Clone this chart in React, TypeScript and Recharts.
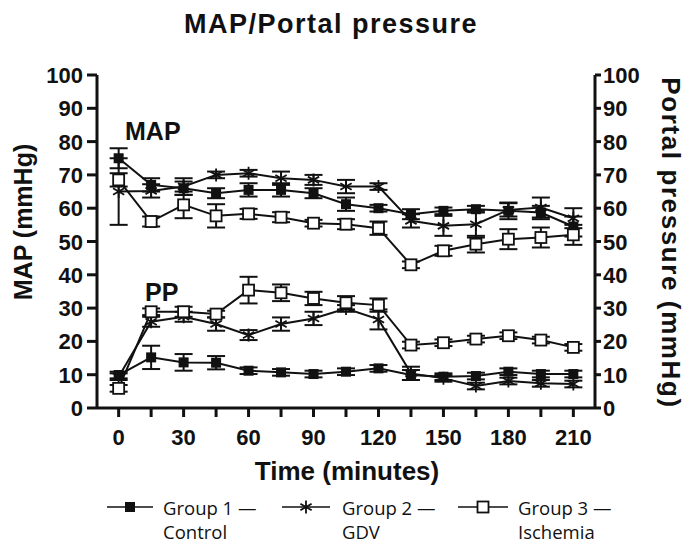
import React from "react";
import { LineChart, Line, XAxis, YAxis, ErrorBar } from "recharts";

const times = [0, 15, 30, 45, 60, 75, 90, 105, 120, 135, 150, 165, 180, 195, 210];
const xTicks = [0, 15, 30, 45, 60, 75, 90, 105, 120, 135, 150, 165, 180, 195, 210];
const yTicks = [0, 10, 20, 30, 40, 50, 60, 70, 80, 90, 100];

const mapControl = [75, 67, 66, 64.5, 65.5, 65.5, 64.5, 61.2, 60, 58.2, 59.2, 59.7, 59.2, 58.7, 54.5];
const mapControlErr = [3, 2, 2, 1.5, 2, 2, 1.5, 2, 1, 1.5, 1, 1, 2.5, 2, 3];
const mapGdv = [65, 65.2, 66.5, 70, 70.5, 69, 68.5, 66.5, 66.5, 56.2, 54.7, 55.2, 59.5, 60.2, 57];
const mapGdvErr = [10, 2, 2.5, 1, 1, 2, 1.5, 2, 1, 2, 3, 4, 2, 3, 3];
const mapIsch = [68.5, 56, 61, 57.7, 58.3, 57.3, 55.5, 55.2, 54, 43, 47.2, 49.2, 50.7, 51.2, 52];
const mapIschErr = [2, 1.5, 4, 3.5, 1.5, 1.5, 1, 1.5, 2, 1, 1.5, 2.5, 3, 3, 3];

const ppControl = [9.9, 15.2, 13.7, 13.6, 11.2, 10.7, 10.2, 10.9, 11.9, 9.9, 9.4, 9.6, 10.9, 10.2, 10.2];
const ppControlErr = [1, 3.5, 2.5, 2, 1, 1, 1, 1, 1, 1.5, 1, 1, 1, 1, 1];
const ppGdv = [9.4, 25.9, 27.4, 25.2, 21.9, 25.2, 26.9, 29.9, 26.6, 10.4, 8.9, 6.6, 8.1, 7.4, 7.2];
const ppGdvErr = [1, 1.5, 1.5, 2, 1.5, 2, 2, 1, 3, 2, 1, 1, 1, 1, 1];
const ppIsch = [5.9, 28.9, 28.9, 28.2, 35.4, 34.6, 32.9, 31.6, 30.9, 18.9, 19.6, 20.7, 21.7, 20.4, 18.2];
const ppIschErr = [1, 1, 1.5, 1, 4, 2.5, 2, 2, 2, 1, 1, 1, 1, 1, 1];

const groupLine1 = ["Group 1 —", "Group 2 —", "Group 3 —"];
const groupLine2 = ["Control", "GDV", "Ischemia"];

const data = times.map((t, i) => ({
  t,
  mapG1: mapControl[i], mapG1e: mapControlErr[i],
  mapG2: mapGdv[i], mapG2e: mapGdvErr[i],
  mapG3: mapIsch[i], mapG3e: mapIschErr[i],
  ppG1: ppControl[i], ppG1e: ppControlErr[i],
  ppG2: ppGdv[i], ppG2e: ppGdvErr[i],
  ppG3: ppIsch[i], ppG3e: ppIschErr[i],
}));

const INK = "#111";
const AXFONT = "'Liberation Sans', Arial, Helvetica, sans-serif";
const TICK_FS = 22;

const FilledSquare = (p: any) => {
  if (p.cx == null || p.cy == null) return <g key={p.key} />;
  return <rect key={p.key} x={p.cx - 5} y={p.cy - 5} width={10} height={10} fill={INK} />;
};
const OpenSquare = (p: any) => {
  if (p.cx == null || p.cy == null) return <g key={p.key} />;
  return (
    <rect key={p.key} x={p.cx - 5.5} y={p.cy - 5.5} width={11} height={11} fill="#fff" stroke={INK} strokeWidth={1.8} />
  );
};
const starPath = (cx: number, cy: number, r: number) => {
  const a = r * Math.cos(Math.PI / 6);
  const b = r * Math.sin(Math.PI / 6);
  return `M${cx},${cy - r}L${cx},${cy + r}M${cx - a},${cy - b}L${cx + a},${cy + b}M${cx - a},${cy + b}L${cx + a},${cy - b}`;
};
const Star = (p: any) => {
  if (p.cx == null || p.cy == null) return <g key={p.key} />;
  return <path key={p.key} d={starPath(p.cx, p.cy, 6.5)} stroke={INK} strokeWidth={1.8} fill="none" />;
};

const XTick = (p: any) => {
  const v = p.payload?.value;
  if (v % 30 !== 0) return <g />;
  return (
    <text x={p.x} y={p.y + 16} textAnchor="middle" fontFamily={AXFONT} fontWeight={700} fontSize={TICK_FS} fill={INK}>
      {v}
    </text>
  );
};
const LeftTick = (p: any) => (
  <text x={p.x} y={p.y + 8} textAnchor="end" fontFamily={AXFONT} fontWeight={700} fontSize={TICK_FS} fill={INK}>
    {p.payload?.value}
  </text>
);
const RightTick = (p: any) => (
  <text x={p.x} y={p.y + 8} textAnchor="start" fontFamily={AXFONT} fontWeight={700} fontSize={TICK_FS} fill={INK}>
    {p.payload?.value}
  </text>
);

const series = [
  { key: "mapG1", yId: "left", dot: FilledSquare },
  { key: "mapG2", yId: "left", dot: Star },
  { key: "mapG3", yId: "left", dot: OpenSquare },
  { key: "ppG1", yId: "right", dot: FilledSquare },
  { key: "ppG2", yId: "right", dot: Star },
  { key: "ppG3", yId: "right", dot: OpenSquare },
];

export default function App() {
  return (
    <div style={{ position: "absolute", left: 0, top: 0, width: 693, height: 557, background: "#fff" }}>
      <LineChart
        width={693}
        height={557}
        data={data}
        margin={{ top: 75, right: 38, left: 37, bottom: 109 }}
      >
        <XAxis
          dataKey="t"
          type="number"
          domain={[-10, 220]}
          ticks={xTicks}
          interval={0}
          allowDataOverflow
          tick={XTick}
          tickSize={9}
          tickMargin={12}
          height={40}
          axisLine={{ stroke: INK, strokeWidth: 3 }}
          tickLine={{ stroke: INK, strokeWidth: 3 }}
        />
        <YAxis
          yAxisId="left"
          domain={[0, 100]}
          ticks={yTicks}
          interval={0}
          width={60}
          tick={LeftTick}
          tickSize={10}
          tickMargin={4}
          axisLine={{ stroke: INK, strokeWidth: 3 }}
          tickLine={{ stroke: INK, strokeWidth: 3 }}
        />
        <YAxis
          yAxisId="right"
          orientation="right"
          domain={[0, 100]}
          ticks={yTicks}
          interval={0}
          width={60}
          tick={RightTick}
          tickSize={6}
          tickMargin={2}
          axisLine={{ stroke: INK, strokeWidth: 3 }}
          tickLine={{ stroke: INK, strokeWidth: 3 }}
        />
        {series.map((s) => (
          <Line
            key={s.key}
            yAxisId={s.yId}
            dataKey={s.key}
            stroke={INK}
            strokeWidth={2}
            dot={s.dot}
            activeDot={false}
            isAnimationActive={false}
            type="linear"
          >
            <ErrorBar
              dataKey={s.key + "e"}
              direction="y"
              width={9}
              stroke={INK}
              strokeWidth={2}
              isAnimationActive={false}
            />
          </Line>
        ))}
      </LineChart>
      <svg
        width={693}
        height={557}
        style={{ position: "absolute", left: 0, top: 0, pointerEvents: "none" }}
      >
        <text x={331} y={33} textAnchor="middle" fontFamily={AXFONT} fontWeight={700} fontSize={27} letterSpacing={1.5} fill={INK}>
          MAP/Portal pressure
        </text>
        <text x={32} y={222} transform="rotate(-90, 32, 222)" textAnchor="middle" fontFamily={AXFONT} fontWeight={700} fontSize={25} fill={INK}>
          MAP (mmHg)
        </text>
        <text x={662} y={243} transform="rotate(90, 662, 243)" textAnchor="middle" fontFamily={AXFONT} fontWeight={700} fontSize={26} letterSpacing={1.6} fill={INK}>
          Portal pressure (mmHg)
        </text>
        <text x={347} y={480} textAnchor="middle" fontFamily={AXFONT} fontWeight={700} fontSize={26} fill={INK}>
          Time (minutes)
        </text>
        <text x={125} y={140} fontFamily={AXFONT} fontWeight={700} fontSize={25} fill={INK}>MAP</text>
        <text x={145} y={301} fontFamily={AXFONT} fontWeight={700} fontSize={25} fill={INK}>PP</text>
        {[
          { x1: 107, x2: 153, tx: 163, dot: FilledSquare },
          { x1: 282, x2: 330, tx: 342, dot: Star },
          { x1: 458, x2: 508, tx: 518, dot: OpenSquare },
        ].map((l, i) => (
          <g key={i}>
            <line x1={l.x1} x2={l.x2} y1={507} y2={507} stroke={INK} strokeWidth={1.5} />
            {l.dot({ cx: (l.x1 + l.x2) / 2, cy: 507, key: "lg" + i })}
            <text x={l.tx} y={515} fontFamily="'Open Sans', 'Noto Sans', sans-serif" fontSize={18.5} fontWeight={500} fill={INK}>
              {groupLine1[i]}
            </text>
            <text x={l.tx} y={539} fontFamily="'Open Sans', 'Noto Sans', sans-serif" fontSize={18.5} fontWeight={500} fill={INK}>
              {groupLine2[i]}
            </text>
          </g>
        ))}
      </svg>
    </div>
  );
}
